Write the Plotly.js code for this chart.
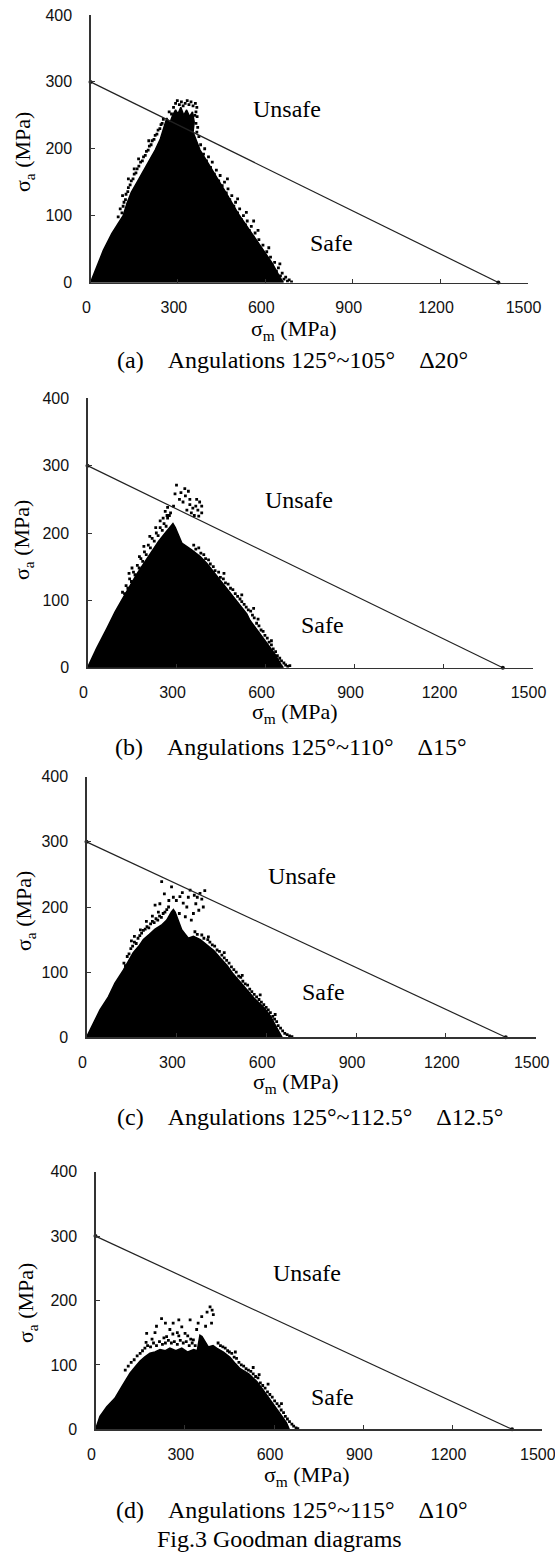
<!DOCTYPE html>
<html><head><meta charset="utf-8">
<script src="https://cdn.plot.ly/plotly-3.0.1.min.js"></script>
<style>html,body{margin:0;padding:0;background:#fff}#chart{width:555px;height:1553px}</style>
</head><body><div id="chart"></div>
<script>
// ---------- data ----------
const xTicks = [0, 300, 600, 900, 1200, 1500];
const yTicks = [0, 100, 200, 300, 400];
const goodmanX = [0, 1400];
const goodmanY = [300, 0];

const captions = [
  "(a)\u00A0\u00A0\u00A0\u00A0Angulations 125°~105°\u00A0\u00A0\u00A0\u00A0Δ20°",
  "(b)\u00A0\u00A0\u00A0\u00A0Angulations 125°~110°\u00A0\u00A0\u00A0\u00A0Δ15°",
  "(c)\u00A0\u00A0\u00A0\u00A0Angulations 125°~112.5°\u00A0\u00A0\u00A0\u00A0Δ12.5°",
  "(d)\u00A0\u00A0\u00A0\u00A0Angulations 125°~115°\u00A0\u00A0\u00A0\u00A0Δ10°"
];
const figTitle = "Fig.3 Goodman diagrams";

// dense cloud envelopes (σm, σa) and the scattered points around them
const aCoreX = [0, 21, 44, 73, 100, 112, 125, 140, 160, 180, 200, 222, 240, 252, 262, 272, 282, 292, 300, 310, 320, 330, 340, 350, 356, 352, 360, 376, 404, 433, 467, 507, 547, 587, 622, 650, 662, 0];
const aCoreY = [0, 24, 48, 73, 92, 100, 118, 135, 150, 165, 180, 198, 215, 232, 246, 238, 250, 258, 252, 262, 250, 258, 248, 255, 240, 225, 215, 198, 178, 158, 133, 103, 78, 53, 30, 8, 0, 0];
const aDots = [[285,262],[292,268],[298,272],[305,266],[312,270],[318,264],[325,268],[332,272],[338,266],[345,270],[352,264],[360,268],[365,262],[362,255],[358,250],[366,248],[362,238],[368,232],[278,252],[286,245],[270,255],
  [95,98],[102,110],[108,104],[115,120],[112,114],[122,132],[120,124],[130,142],[128,136],[140,152],[136,146],[150,162],[146,155],[160,170],[156,164],[172,180],[166,174],[182,188],[178,182],[192,196],[188,190],[202,204],[198,198],[212,212],[208,206],[222,220],[218,214],[232,228],[228,222],[242,236],[238,230],[250,244],[246,238],[130,155],[165,185],[200,212],[110,130],[150,170],
  [365,225],[378,206],[372,218],[392,200],[388,192],[405,188],[398,182],[418,180],[412,172],[432,168],[425,162],[445,160],[440,152],[460,150],[452,145],[472,140],[466,134],[485,130],[478,124],[498,120],[492,114],[512,110],[505,104],[525,100],[518,94],[538,92],[532,86],[552,84],[545,78],[565,74],[558,68],[578,64],[572,58],[592,56],[585,50],[605,46],[598,40],[618,38],[612,32],[632,30],[625,25],[645,22],[638,17],[658,14],[652,10],[670,8],[664,5],[682,4],[676,2],[690,1],[470,155],[535,105],[575,78],[612,52],[650,28],[505,125],[560,92]];

const bCoreX = [0, 31, 65, 93, 115, 140, 165, 190, 215, 240, 262, 280, 288, 296, 318, 351, 380, 402, 436, 480, 510, 537, 548, 596, 632, 652, 660, 0];
const bCoreY = [0, 29, 58, 83, 100, 120, 138, 155, 172, 188, 200, 210, 214, 208, 185, 175, 165, 155, 136, 111, 95, 80, 70, 42, 20, 5, 0, 0];
const bDots = [[118,112],[125,110],[130,122],[136,118],[142,132],[148,128],[155,142],[160,138],[168,152],[174,148],[180,162],[186,158],[192,172],[198,168],[205,182],[212,178],[218,192],[225,188],[232,200],[238,196],[245,208],[252,204],[258,214],[265,210],[270,222],[276,226],[150,148],[190,180],[230,208],[255,222],[175,165],[210,195],[140,140],[245,218],
  [300,271],[328,266],[315,260],[340,262],[310,250],[322,246],[345,242],[355,237],[365,240],[372,234],[350,230],[360,226],[378,246],[368,250],[335,234],[262,232],[270,238],[280,230],[290,240],[268,226],[385,240],[375,225],[330,255],[295,258],[385,230],[345,250],
  [358,182],[365,176],[375,178],[382,170],[392,168],[398,162],[408,160],[414,154],[424,150],[430,144],[442,142],[448,134],[458,132],[465,126],[474,124],[482,118],[490,116],[498,110],[506,106],[514,102],[520,98],[528,94],[535,90],[542,86],[550,84],[556,78],[562,74],[570,66],[578,62],[585,56],[592,54],[598,48],[606,44],[612,38],[620,34],[626,28],[634,24],[640,18],[648,14],[654,10],[662,7],[668,4],[675,2],[682,3],[460,140],[520,108],[575,72],[620,40],[560,88]];

const cCoreX = [0, 23, 45, 73, 95, 123, 140, 156, 175, 190, 210, 229, 250, 268, 283, 290, 296, 318, 340, 357, 380, 401, 425, 446, 470, 490, 512, 535, 560, 594, 615, 629, 645, 653, 0];
const cCoreY = [0, 21, 42, 62, 83, 103, 118, 130, 140, 150, 158, 166, 172, 180, 192, 196, 192, 165, 152, 155, 150, 142, 133, 122, 110, 97, 85, 72, 60, 45, 32, 20, 8, 0, 0];
const cDots = [[125,114],[130,110],[136,124],[142,128],[148,136],[154,140],[160,146],[166,144],[172,152],[178,156],[184,160],[190,164],[196,166],[202,170],[208,168],[214,174],[220,178],[226,176],[232,182],[238,180],[244,186],[250,184],[256,190],[262,192],[268,196],[274,200],[160,155],[200,178],[240,192],[180,165],[220,186],[150,148],
  [251,239],[284,231],[229,203],[312,216],[346,226],[379,221],[390,200],[357,190],[323,206],[407,154],[300,210],[335,200],[365,205],[370,215],[385,212],[340,215],[395,225],[260,220],[330,185],[350,180],[310,190],[375,195],[290,215],[275,210],[320,222],[360,218],[245,205],
  [362,162],[370,158],[385,157],[392,152],[405,150],[412,146],[420,142],[428,140],[436,134],[444,132],[452,126],[460,122],[468,118],[476,114],[484,108],[492,104],[500,100],[508,94],[515,92],[522,86],[530,82],[538,80],[545,74],[552,70],[560,66],[568,62],[576,58],[584,54],[592,50],[600,46],[607,42],[614,38],[622,32],[628,28],[635,24],[640,18],[648,14],[655,10],[662,6],[670,4],[678,2],[686,1],[460,130],[520,95],[580,65],[630,35]];

const dCoreX = [0, 15, 38, 65, 88, 116, 135, 150, 165, 183, 200, 217, 235, 250, 270, 290, 310, 330, 342, 351, 358, 368, 379, 395, 407, 430, 452, 470, 486, 515, 543, 565, 591, 610, 627, 642, 651, 0];
const dCoreY = [0, 20, 35, 48, 66, 87, 98, 106, 112, 118, 120, 124, 122, 126, 122, 126, 120, 124, 122, 146, 144, 136, 128, 130, 126, 120, 112, 102, 94, 86, 74, 60, 44, 32, 20, 10, 0, 0];
const dDots = [[100,92],[110,98],[120,104],[130,108],[140,114],[150,118],[158,122],[166,126],[175,130],[185,128],[195,134],[205,130],[215,136],[225,132],[235,134],[245,138],[255,134],[265,136],[275,132],[285,138],[295,134],[305,136],[315,130],[325,134],[335,130],[170,135],[190,140],[230,142],[280,145],[320,140],
  [172,149],[222,172],[261,165],[290,159],[318,170],[357,175],[385,190],[396,178],[301,149],[239,144],[329,139],[205,160],[250,155],[275,150],[340,155],[370,160],[390,165],[280,170],[235,165],[310,145],[260,148],[345,165],[200,150],[375,182],[392,185],
  [412,134],[420,130],[428,128],[436,126],[444,122],[450,120],[458,118],[466,112],[474,110],[482,104],[490,100],[498,98],[506,94],[514,92],[522,90],[530,86],[538,82],[546,80],[554,72],[562,68],[570,64],[578,58],[586,54],[594,50],[602,44],[610,40],[617,36],[624,30],[632,26],[638,20],[645,16],[652,12],[660,8],[666,5],[674,2],[680,1],[470,120],[530,96],[580,70],[625,40],[550,85]];

const cores = [[aCoreX, aCoreY], [bCoreX, bCoreY], [cCoreX, cCoreY], [dCoreX, dCoreY]];
const dots = [aDots, bDots, cDots, dDots];

// ---------- layout geometry (pixels) ----------
const W = 555, H = 1553;
const geo = [
  {x0: 90.5, x1: 527.5, yt: 15,    yb: 282.5, unsafe: [287, 109],  safe: [331, 243],  xt: [294, 330],  yti: [24, 152],  cap: [292, 360]},
  {x0: 87.5, x1: 532.5, yt: 398.3, yb: 667.7, unsafe: [299, 500],  safe: [322, 625],  xt: [295, 713],  yti: [23, 540],  cap: [291, 747]},
  {x0: 86.5, x1: 535.7, yt: 776.7, yb: 1037.3, unsafe: [302, 876], safe: [323, 992],  xt: [296, 1083], yti: [25, 911],  cap: [310, 1117]},
  {x0: 95.5, x1: 541.8, yt: 1171.7, yb: 1429.3, unsafe: [307, 1273], safe: [332, 1397], xt: [307, 1476], yti: [27, 1303], cap: [292, 1510]}
];
const px = v => v / W, py = v => 1 - v / H;

const serif = "'Liberation Serif', 'Times New Roman', Times, serif";
const sans = "'Liberation Sans', Arial, Helvetica, sans-serif";

const data = [];
const layout = {
  width: W, height: H, margin: {l: 0, r: 0, t: 0, b: 0},
  paper_bgcolor: '#fff', plot_bgcolor: 'rgba(0,0,0,0)', showlegend: false,
  annotations: []
};

geo.forEach((g, i) => {
  const n = i === 0 ? '' : String(i + 1);
  const xa = 'x' + n, ya = 'y' + n;
  data.push({x: cores[i][0], y: cores[i][1], xaxis: xa, yaxis: ya, type: 'scatter', mode: 'lines',
    fill: 'toself', fillcolor: '#000', line: {color: '#000', width: 1.5}, hoverinfo: 'skip'});
  data.push({x: dots[i].map(p => p[0]), y: dots[i].map(p => p[1]), xaxis: xa, yaxis: ya, type: 'scatter', mode: 'markers',
    marker: {color: '#000', size: 2.8, symbol: 'square'}, hoverinfo: 'skip'});
  data.push({x: goodmanX, y: goodmanY, xaxis: xa, yaxis: ya, type: 'scatter', mode: 'lines+markers',
    line: {color: '#222', width: 1.2}, marker: {color: '#111', size: 4}, cliponaxis: false});

  layout['xaxis' + n] = {
    domain: [px(g.x0), px(g.x1)], anchor: ya, range: [0, 1500], tickvals: xTicks, ticktext: xTicks.map(String),
    showgrid: false, zeroline: false, showline: true, linecolor: '#333', linewidth: 1.2,
    ticks: 'inside', ticklen: 4, tickcolor: '#333', tickwidth: 1, ticklabeloverflow: 'allow',
    tickfont: {family: sans, size: 16, color: '#111'}, ticklabelstandoff: 10, ticklabelshift: -4, fixedrange: true
  };
  layout['yaxis' + n] = {
    domain: [py(g.yb), py(g.yt)], anchor: xa, range: [0, 400], tickvals: yTicks, ticktext: yTicks.map(String),
    showgrid: false, zeroline: false, showline: true, linecolor: '#333', linewidth: 1.2,
    ticks: 'inside', ticklen: 4, tickcolor: '#333', tickwidth: 1, ticklabeloverflow: 'allow',
    tickfont: {family: sans, size: 16, color: '#111'}, ticklabelstandoff: 14, fixedrange: true
  };

  const A = layout.annotations;
  const txt = (t, p, size, extra) => A.push(Object.assign({text: t, xref: 'paper', yref: 'paper', x: px(p[0]), y: py(p[1]),
    xanchor: 'center', yanchor: 'middle', showarrow: false, font: {family: serif, size: size, color: '#000'}}, extra || {}));
  txt('Unsafe', g.unsafe, 24);
  txt('Safe', g.safe, 24);
  txt('σ<sub>m</sub> (MPa)', g.xt, 22);
  txt('σ<sub>a</sub> (MPa)', g.yti, 22, {textangle: -90});
  txt(captions[i], g.cap, 24);
});
layout.annotations.push({text: figTitle, xref: 'paper', yref: 'paper', x: px(279), y: py(1539),
  xanchor: 'center', yanchor: 'middle', showarrow: false, font: {family: serif, size: 24, color: '#000'}});

Plotly.newPlot('chart', data, layout, {staticPlot: true, displayModeBar: false});
</script></body></html>
